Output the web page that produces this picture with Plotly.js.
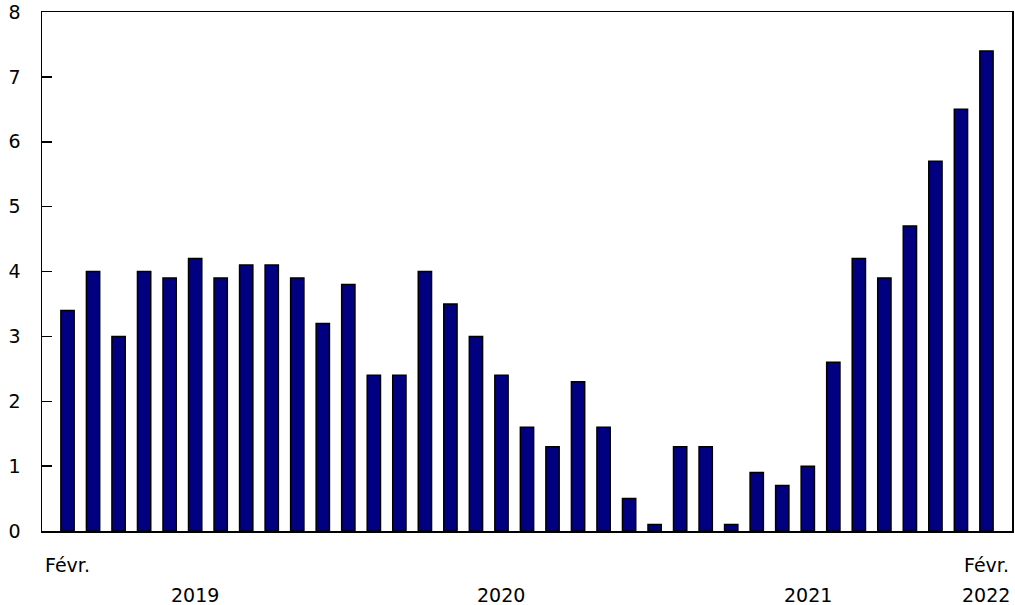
<!DOCTYPE html>
<html>
<head>
<meta charset="utf-8">
<script src="https://cdn.plot.ly/plotly-3.0.1.min.js"></script>
<style>html,body{margin:0;padding:0;background:#fff;}#chart{width:1015px;height:605px;}</style>
</head>
<body>
<div id="chart"></div>
<script>
const months = [
  "2019-02","2019-03","2019-04","2019-05","2019-06","2019-07","2019-08","2019-09","2019-10","2019-11","2019-12",
  "2020-01","2020-02","2020-03","2020-04","2020-05","2020-06","2020-07","2020-08","2020-09","2020-10","2020-11","2020-12",
  "2021-01","2021-02","2021-03","2021-04","2021-05","2021-06","2021-07","2021-08","2021-09","2021-10","2021-11","2021-12",
  "2022-01","2022-02"
];
const values = [
  3.4, 4.0, 3.0, 4.0, 3.9, 4.2, 3.9, 4.1, 4.1, 3.9, 3.2,
  3.8, 2.4, 2.4, 4.0, 3.5, 3.0, 2.4, 1.6, 1.3, 2.3, 1.6,
  0.5, 0.1, 1.3, 1.3, 0.1, 0.9, 0.7, 1.0, 2.6, 4.2, 3.9,
  4.7, 5.7, 6.5, 7.4
];
const monthLabels = [
  {at: "2019-02", text: "Févr."},
  {at: "2022-02", text: "Févr."}
];
const yearLabels = [
  {at: "2019-07", text: "2019"},
  {at: "2020-07", text: "2020"},
  {at: "2021-07", text: "2021"},
  {at: "2022-02", text: "2022"}
];
const yTicks = [0,1,2,3,4,5,6,7,8];

const font = {family: "DejaVu Sans, Verdana, sans-serif", size: 19, color: "#000"};

const annotations = [];
monthLabels.forEach(m => annotations.push({
  x: m.at, xref: "x", y: 0, yref: "paper", yshift: -34, text: m.text,
  showarrow: false, font: font, xanchor: "center", yanchor: "middle"
}));
yearLabels.forEach(m => annotations.push({
  x: m.at, xref: "x", y: 0, yref: "paper", yshift: -64, text: m.text,
  showarrow: false, font: font, xanchor: "center", yanchor: "middle"
}));

Plotly.newPlot("chart", [{
  type: "bar",
  x: months,
  y: values,
  width: 0.52,
  marker: {color: "#000080", line: {color: "#000", width: 1.5}},
  hoverinfo: "x+y"
}], {
  width: 1015, height: 605,
  margin: {l: 42, r: 3, t: 12, b: 74, pad: 0},
  paper_bgcolor: "#fff", plot_bgcolor: "#fff",
  showlegend: false,
  font: font,
  xaxis: {
    type: "category", range: [-1, 37], showticklabels: false, ticks: "",
    showgrid: false, zeroline: false, showline: true, linecolor: "#000", linewidth: 1.5, mirror: true
  },
  yaxis: {
    range: [0, 8], tickvals: yTicks, ticktext: yTicks.map(String),
    ticks: "inside", ticklen: 10, tickwidth: 1.5, tickcolor: "#000",
    showgrid: false, zeroline: false, showline: true, linecolor: "#000", linewidth: 1.5, mirror: true,
    ticklabelstandoff: 16, tickfont: font
  },
  annotations: annotations
}, {displayModeBar: false, staticPlot: true});
</script>
</body>
</html>
